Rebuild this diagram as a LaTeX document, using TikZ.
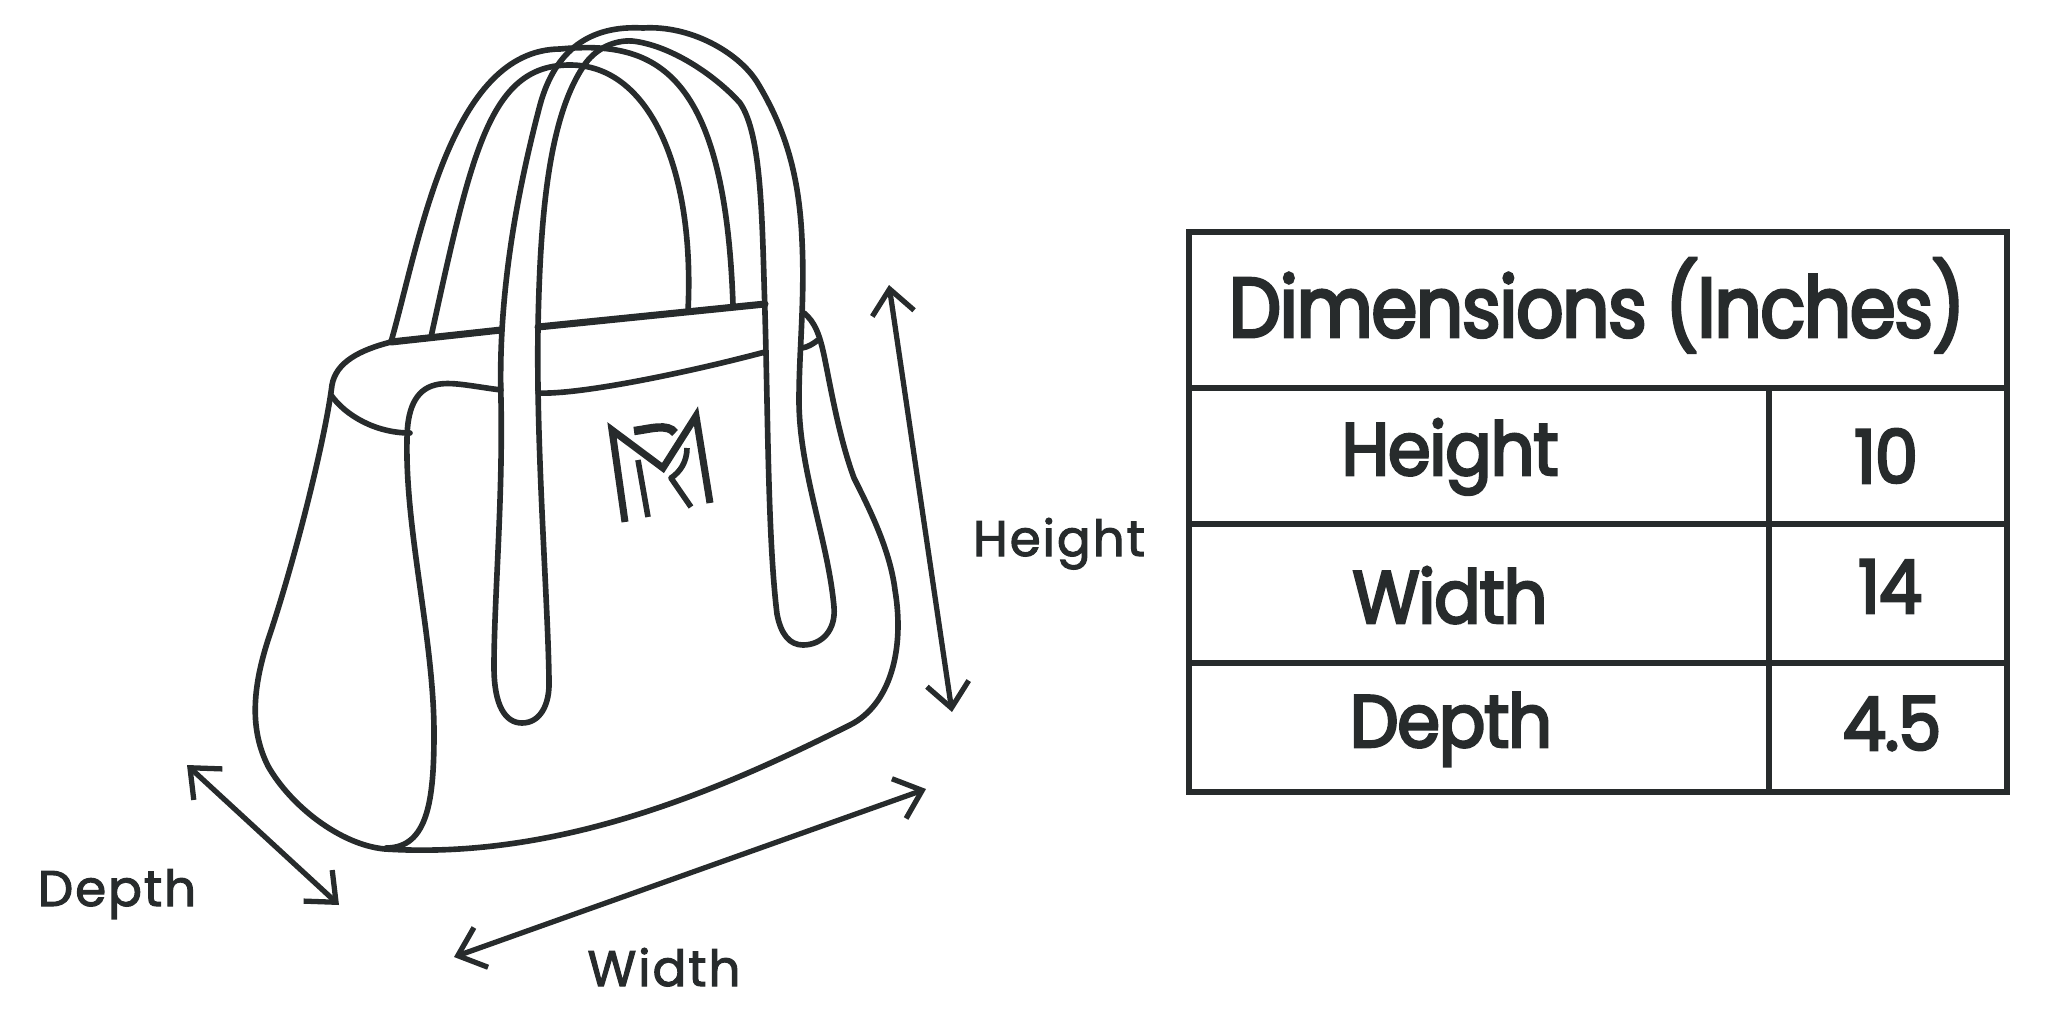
\documentclass[tikz,border=0pt]{standalone}
\usepackage{fontspec}
\usepackage{xcolor}
\usetikzlibrary{arrows.meta,positioning}
\setmainfont{Poppins}
\newfontfamily\cellfont[FakeStretch=0.93,LetterSpace=-1.5,FakeBold=3.5]{Poppins}
\newfontfamily\titlefont[FakeStretch=0.875,LetterSpace=-1.5,FakeBold=3.5]{Poppins}
\newfontfamily\dimfont[LetterSpace=4,FakeBold=2.2]{Poppins}
\definecolor{inkdark}{HTML}{272B2C}

\begin{document}
\begin{tikzpicture}[x=0.01cm, y=-0.01cm,
    bagline/.style={draw=inkdark, line width=1.6pt, line cap=round, line join=round},
    rimline/.style={draw=inkdark, line width=2pt, line cap=round, line join=round},
    tableline/.style={draw=inkdark, line width=1.85pt},
    arrow/.style={{Straight Barb[length=7pt,width=12pt]}-{Straight Barb[length=7pt,width=12pt]}, draw=inkdark, line width=1.5pt},
    cell/.style={anchor=base, text=inkdark, font=\cellfont\fontsize{21}{24}\selectfont},
    dimlabel/.style={anchor=base, text=inkdark, font=\dimfont\fontsize{14.2}{17}\selectfont}
]
    \useasboundingbox (0,0) rectangle (2048,1024);

    % Back handle
    \draw[bagline] (391,342) .. controls (420,240) and (450,50) .. (560,49)
        .. controls (655,40) and (725,70) .. (733,305);
    \draw[bagline] (431,337) .. controls (472,150) and (490,65) .. (570,65)
        .. controls (650,65) and (695,170) .. (688,311);

    % Front handle
    \draw[bagline] (643,28) .. controls (590,25) and (555,50) .. (540,105)
        .. controls (515,200) and (498,300) .. (501,400)
        .. controls (503,500) and (494,600) .. (494,667)
        .. controls (494,705) and (505,723) .. (522,723)
        .. controls (540,723) and (550,705) .. (549,680)
        .. controls (548,600) and (536,450) .. (538,328)
        .. controls (540,220) and (548,120) .. (583,67)
        .. controls (595,48) and (615,40) .. (632,41)
        .. controls (670,45) and (715,75) .. (740,103)
        .. controls (762,135) and (762,220) .. (765,313)
        .. controls (768,420) and (768,540) .. (777,614)
        .. controls (781,635) and (790,645) .. (803,645)
        .. controls (822,645) and (836,630) .. (834,607)
        .. controls (828,540) and (799,470) .. (799,400)
        .. controls (799,350) and (805,300) .. (802,240)
        .. controls (799,170) and (783,125) .. (757,82)
        .. controls (738,52) and (690,25) .. (643,28);

    % Body
    \draw[rimline] (391,342) -- (501,330);
    \draw[rimline] (538,327) -- (765,304);
    \draw[bagline] (391,342) .. controls (360,350) and (336,362) .. (332,385)
        .. controls (325,440) and (295,560) .. (268,640)
        .. controls (252,690) and (250,730) .. (268,766)
        .. controls (290,805) and (340,845) .. (385,849)
        .. controls (560,860) and (720,790) .. (850,725)
        .. controls (890,705) and (905,650) .. (895,590)
        .. controls (890,550) and (870,510) .. (854,478)
        .. controls (840,440) and (832,395) .. (825,360)
        .. controls (820,335) and (815,322) .. (804,313);
    \draw[bagline] (331,395) .. controls (345,415) and (375,433) .. (410,433);
    \draw[bagline] (501,390) .. controls (470,386) and (450,381) .. (435,385)
        .. controls (415,390) and (407,410) .. (407,440)
        .. controls (405,530) and (434,640) .. (434,733)
        .. controls (434,800) and (428,848) .. (386,848);
    \draw[bagline] (538,393) .. controls (580,395) and (690,372) .. (765,352);
    \draw[bagline] (802,348) .. controls (808,347) and (813,344) .. (818,340);

    % Logo
    \draw[rimline, line join=miter, line cap=butt] (625,522) -- (612,430) -- (663,468) -- (696,416) -- (710,503);
    \draw[bagline, line cap=butt] (638,460) -- (648,517);
    \draw[draw=inkdark, line width=2.4pt] (634,431) .. controls (650,429) and (668,423) .. (675,433);
    \draw[bagline, line cap=butt] (687,448) .. controls (687,462) and (680,472) .. (671,478) -- (691,507);

    % Height
    \coordinate (height_top) at (889,285);
    \coordinate (height_bot) at (952,712);
    \draw[arrow] (height_top) -- (height_bot);
    \node[dimlabel] (lbl_height) at (1059,556) {Height};

    % Width
    \coordinate (width_right) at (926,789);
    \coordinate (width_left) at (454,957);
    \draw[arrow] (width_right) -- (width_left);
    \node[dimlabel] (lbl_width) at (664,986) {Width};

    % Depth
    \coordinate (depth_top) at (187,765);
    \coordinate (depth_bot) at (339,905);
    \draw[arrow] (depth_top) -- (depth_bot);
    \node[dimlabel] (lbl_depth) at (117,906) {Depth};

    % Table
    \draw[tableline] (1189,232) rectangle (2007,792);
    \draw[tableline] (1189,388) -- (2007,388);
    \draw[tableline] (1189,524) -- (2007,524);
    \draw[tableline] (1189,663) -- (2007,663);
    \draw[tableline] (1769,388) -- (1769,792);
    \node[cell, font=\titlefont\fontsize{24}{28}\selectfont] (title) at (1597,337) {Dimensions (Inches)};
    \node[cell] (row_height) at (1450,475) {Height};
    \node[cell] (val_height) at (1886,483) {10};
    \node[cell] (row_width) at (1450,623) {Width};
    \node[cell] (val_width) at (1890,613) {14};
    \node[cell] (row_depth) at (1451,747) {Depth};
    \node[cell] (val_depth) at (1892,750) {4.5};
\end{tikzpicture}
\end{document}
